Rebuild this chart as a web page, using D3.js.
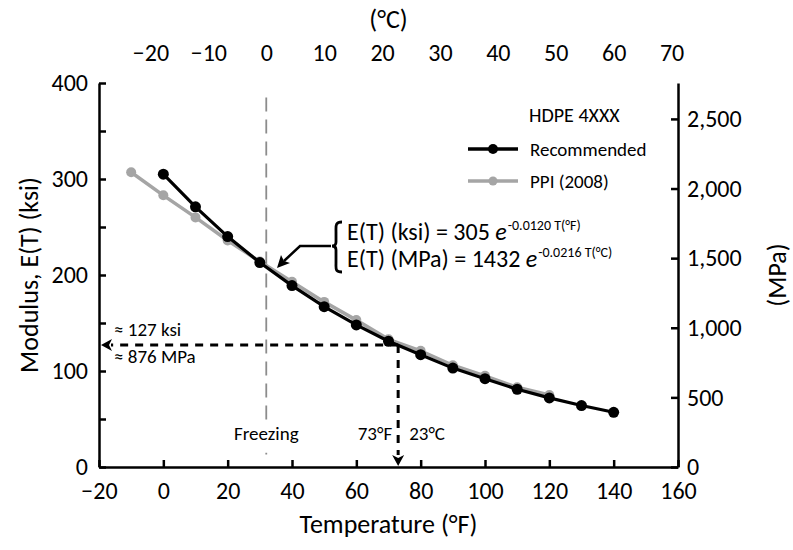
<!DOCTYPE html>
<html>
<head>
<meta charset="utf-8">
<script src="https://cdn.jsdelivr.net/npm/d3@7"></script>
<style>
  body { margin: 0; background: #fff; }
  svg text { font-family: Carlito, Lato, "Open Sans", sans-serif; fill: #000; }
  .axis path, .axis line { stroke: #000; stroke-width: 2.5px; }
  .axis text { font-size: 24px; }
</style>
</head>
<body>
<svg id="chart"></svg>
<script>
// Temperatures (°F) and modulus values (ksi)
const recTemps = [0, 10, 20, 30, 40, 50, 60, 70, 80, 90, 100, 110, 120, 130, 140];
const recModulus = [305, 271, 240, 213, 189, 167, 148, 131, 117, 103, 92, 81, 72, 64, 57];
const ppiTemps = [-10, 0, 10, 20, 30, 40, 50, 60, 70, 80, 90, 100, 110, 120];
const ppiModulus = [307, 283, 260, 236, 214, 193, 172, 153, 133, 121, 106, 95, 83, 75];

const xTicksF = [-20, 0, 20, 40, 60, 80, 100, 120, 140, 160];
const xTicksC = [-20, -10, 0, 10, 20, 30, 40, 50, 60, 70];
const yTicksKsi = [0, 50, 100, 150, 200, 250, 300, 350, 400];
const yTicksMPa = [0, 500, 1000, 1500, 2000, 2500];

const freezingF = 32;
const refTempF = 73;
const refKsi = 127;
const KSI_TO_MPA = 6.894757;

const width = 793;
const height = 550;
const margin = { top: 83, right: 115, bottom: 83, left: 99 };

const svg = d3.select("#chart")
    .attr("width", width)
    .attr("height", height);

const x = d3.scaleLinear()
    .domain([-20, 160])
    .range([margin.left, width - margin.right]);

const xC = d3.scaleLinear()
    .domain(x.domain().map(f => (f - 32) / 1.8))
    .range(x.range());

const y = d3.scaleLinear()
    .domain([0, 400])
    .range([height - margin.bottom, margin.top]);

const yR = d3.scaleLinear()
    .domain(y.domain().map(v => v * KSI_TO_MPA))
    .range(y.range());

// Axes
svg.append("g")
    .attr("class", "axis")
    .attr("transform", `translate(0,${y(0)})`)
    .call(d3.axisBottom(x).tickValues(xTicksF).tickSizeInner(-7).tickSizeOuter(0).tickPadding(15));

svg.append("g")
    .attr("class", "axis")
    .attr("transform", `translate(${x(-20)},0)`)
    .call(d3.axisLeft(y).tickValues(yTicksKsi).tickSizeInner(-7).tickSizeOuter(0).tickPadding(11)
        .tickFormat(d => d % 100 === 0 ? d : ""));

svg.append("g")
    .attr("class", "axis")
    .attr("transform", `translate(${x(160)},0)`)
    .call(d3.axisRight(yR).tickValues(yTicksMPa).tickSizeInner(-7).tickSizeOuter(0).tickPadding(9)
        .tickFormat(d3.format(",")));

const topAxis = svg.append("g")
    .attr("class", "axis")
    .attr("transform", `translate(0,${margin.top - 22})`)
    .call(d3.axisTop(xC).tickValues(xTicksC).tickSize(0).tickPadding(0));
topAxis.select(".domain").remove();

// Axis titles
svg.append("text")
    .attr("x", (x(-20) + x(160)) / 2)
    .attr("y", 533)
    .attr("text-anchor", "middle")
    .style("font-size", "26px")
    .text("Temperature (°F)");

svg.append("text")
    .attr("x", (x(-20) + x(160)) / 2)
    .attr("y", 28)
    .attr("text-anchor", "middle")
    .style("font-size", "26px")
    .text("(°C)");

svg.append("text")
    .attr("transform", `translate(38,${(y(0) + y(400)) / 2}) rotate(-90)`)
    .attr("text-anchor", "middle")
    .style("font-size", "26px")
    .text("Modulus, E(T) (ksi)");

svg.append("text")
    .attr("transform", `translate(786,${(y(0) + y(400)) / 2}) rotate(-90)`)
    .attr("text-anchor", "middle")
    .style("font-size", "26px")
    .text("(MPa)");

// Freezing line
svg.append("line")
    .attr("x1", x(freezingF)).attr("x2", x(freezingF))
    .attr("y1", y(385)).attr("y2", y(13))
    .attr("stroke", "#8c8c8c")
    .attr("stroke-width", 1.8)
    .attr("stroke-dasharray", "14,8");

svg.append("rect")
    .attr("x", x(freezingF) - 40).attr("y", y(44))
    .attr("width", 80).attr("height", 28)
    .attr("fill", "#fff");

svg.append("text")
    .attr("x", x(freezingF))
    .attr("y", y(28))
    .attr("text-anchor", "middle")
    .style("font-size", "19px")
    .text("Freezing");

// Series
const line = d3.line()
    .x(d => x(d[0]))
    .y(d => y(d[1]));

const ppiData = d3.zip(ppiTemps, ppiModulus);
const recData = d3.zip(recTemps, recModulus);

svg.append("path")
    .datum(ppiData)
    .attr("d", line)
    .attr("fill", "none")
    .attr("stroke", "#a5a5a5")
    .attr("stroke-width", 3.5);

svg.selectAll(".ppi-dot")
    .data(ppiData)
    .enter().append("circle")
    .attr("class", "ppi-dot")
    .attr("cx", d => x(d[0]))
    .attr("cy", d => y(d[1]))
    .attr("r", 5)
    .attr("fill", "#a5a5a5");

svg.append("path")
    .datum(recData)
    .attr("d", line)
    .attr("fill", "none")
    .attr("stroke", "#000")
    .attr("stroke-width", 3.2);

svg.selectAll(".rec-dot")
    .data(recData)
    .enter().append("circle")
    .attr("class", "rec-dot")
    .attr("cx", d => x(d[0]))
    .attr("cy", d => y(d[1]))
    .attr("r", 5.5)
    .attr("fill", "#000");

// Reference point dashed lines with arrows
svg.append("path")
    .attr("d", `M${x(refTempF)},${y(refKsi)} H${x(-20) + 12}`)
    .attr("stroke", "#000")
    .attr("stroke-width", 3)
    .attr("stroke-dasharray", "8,7")
    .attr("fill", "none");

svg.append("path")
    .attr("d", `M${x(-20) + 2},${y(refKsi)} l11,-6 l-3,6 l3,6 z`)
    .attr("fill", "#000");

svg.append("path")
    .attr("d", `M${x(refTempF)},${y(refKsi)} V${y(0) - 12}`)
    .attr("stroke", "#000")
    .attr("stroke-width", 3)
    .attr("stroke-dasharray", "8,7")
    .attr("fill", "none");

svg.append("path")
    .attr("d", `M${x(refTempF)},${y(0) - 1} l-6,-11 l6,3 l6,-3 z`)
    .attr("fill", "#000");

svg.append("text")
    .attr("x", x(-20) + 15)
    .attr("y", y(refKsi) - 9)
    .style("font-size", "19px")
    .text("≈ 127 ksi");

svg.append("text")
    .attr("x", x(-20) + 15)
    .attr("y", y(refKsi) + 18)
    .style("font-size", "19px")
    .text("≈ 876 MPa");

svg.append("text")
    .attr("x", x(refTempF) - 6)
    .attr("y", y(28))
    .attr("text-anchor", "end")
    .style("font-size", "19px")
    .text("73°F");

svg.append("text")
    .attr("x", x(refTempF) + 11)
    .attr("y", y(28))
    .style("font-size", "19px")
    .text("23°C");

// Legend
const legendItems = [
    { label: "Recommended", color: "#000", r: 5 },
    { label: "PPI (2008)", color: "#a5a5a5", r: 4.5 }
];

svg.append("text")
    .attr("x", 529)
    .attr("y", 122)
    .style("font-size", "20px")
    .text("HDPE 4XXX");

const legend = svg.selectAll(".legend")
    .data(legendItems)
    .enter().append("g")
    .attr("class", "legend")
    .attr("transform", (d, i) => `translate(468,${149 + i * 32})`);

legend.append("line")
    .attr("x2", 50)
    .attr("stroke", d => d.color)
    .attr("stroke-width", 3.5);

legend.append("circle")
    .attr("cx", 25)
    .attr("r", d => d.r)
    .attr("fill", d => d.color);

legend.append("text")
    .attr("x", 62)
    .attr("y", 7)
    .style("font-size", "19px")
    .text(d => d.label);

// Equation with brace and arrow
const eq = svg.append("g").style("font-size", "24px");

const eqLines = [
    { lhs: "E(T) (ksi) = 305 ", exp: "-0.0120 T(°F)", yPos: 240 },
    { lhs: "E(T) (MPa) = 1432 ", exp: "-0.0216 T(°C)", yPos: 267 }
];

eqLines.forEach(d => {
    const t = eq.append("text").attr("x", 347).attr("y", d.yPos);
    t.append("tspan").text(d.lhs);
    t.append("tspan").style("font-style", "italic").text("e");
    t.append("tspan").attr("dx", 1).attr("dy", -10).style("font-size", "14px").text(d.exp);
});

svg.append("path")
    .attr("d", "M342,222 C335,222 336,226 336,232 L336,242 C336,245 334,246 332,246 C334,246 336,247 336,250 L336,263 C336,269 335,272 342,272")
    .attr("fill", "none")
    .attr("stroke", "#000")
    .attr("stroke-width", 2.8);

svg.append("path")
    .attr("d", "M331,246 H300 L284,261")
    .attr("fill", "none")
    .attr("stroke", "#000")
    .attr("stroke-width", 2.5);

svg.append("path")
    .attr("d", "M277,268 L281,255 L284,261 L290,263 Z")
    .attr("fill", "#000");
</script>
</body>
</html>
